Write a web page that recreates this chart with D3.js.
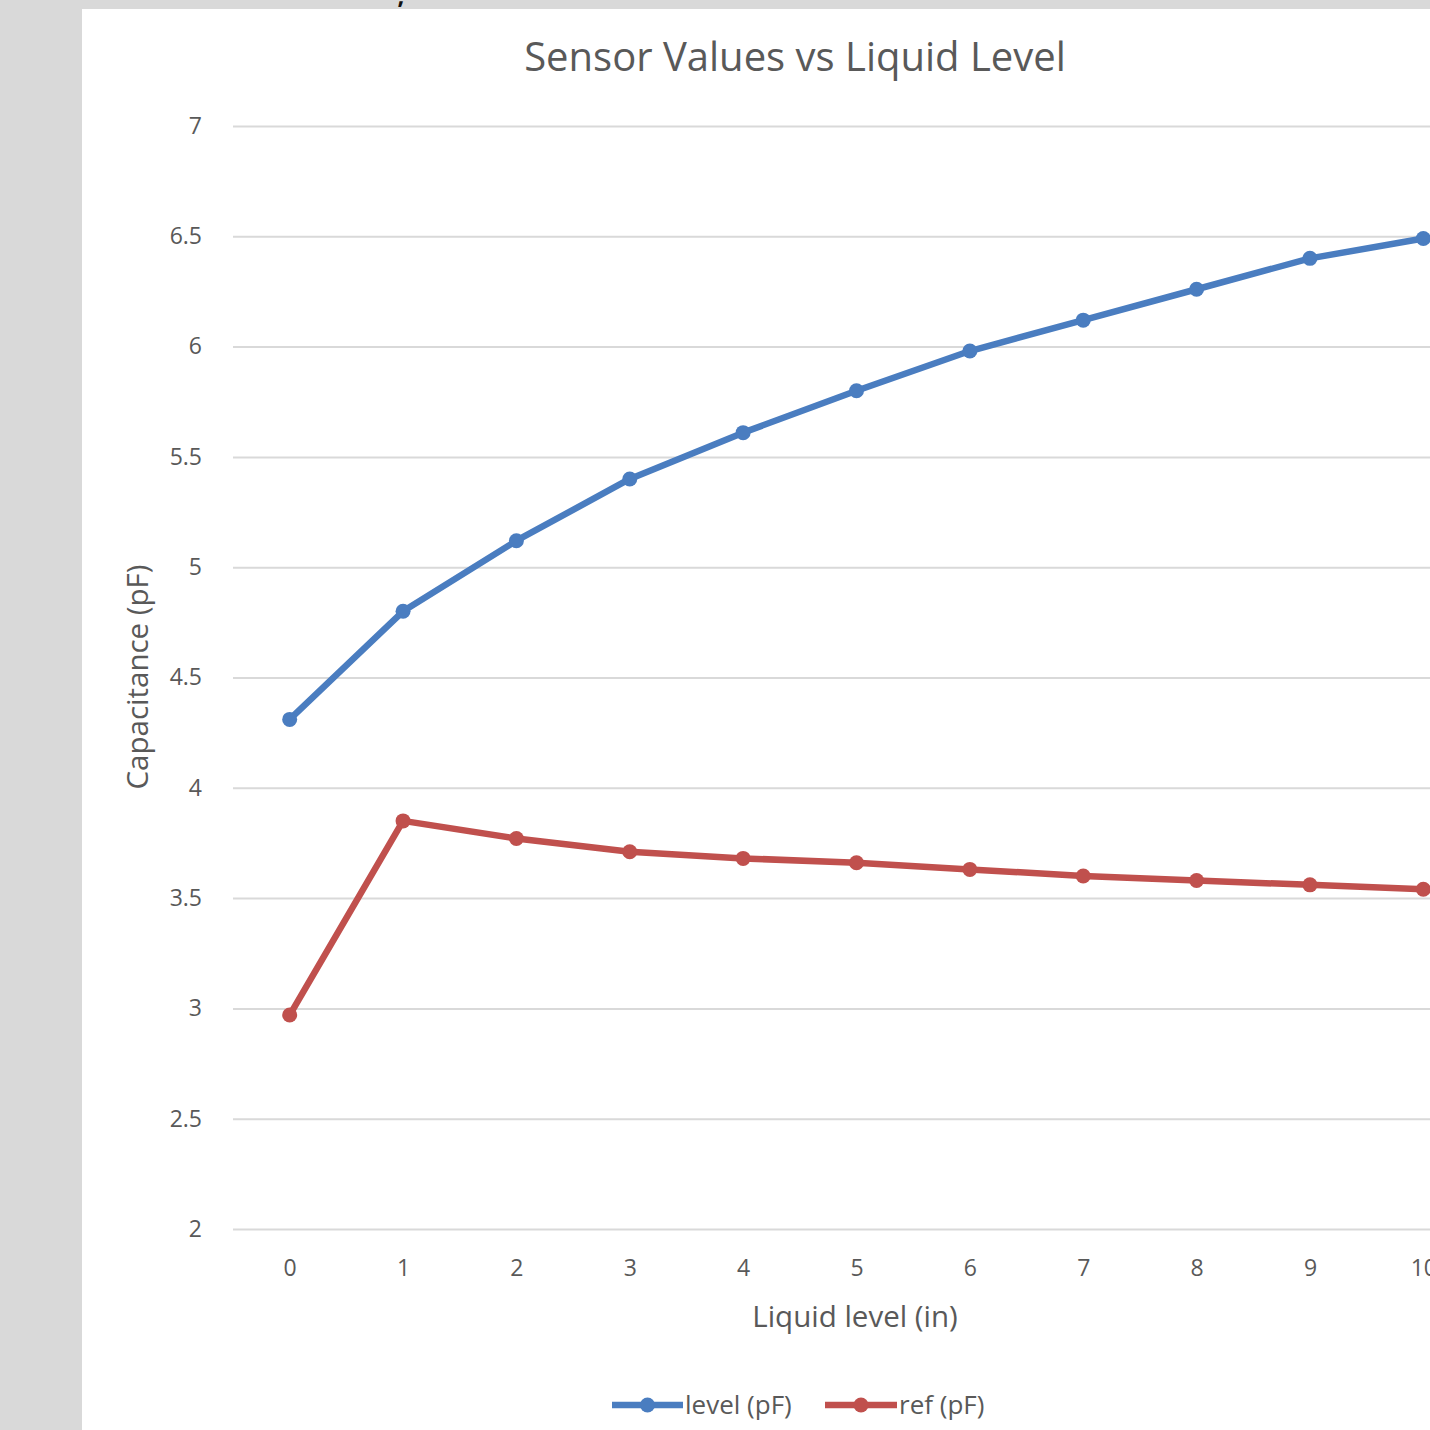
<!DOCTYPE html>
<html>
<head>
<meta charset="utf-8">
<script src="https://cdn.jsdelivr.net/npm/d3@7"></script>
<style>
  html, body { margin: 0; padding: 0; background: #d9d9d9; }
  svg { display: block; font-family: "Open Sans", "Noto Sans", sans-serif; }
</style>
</head>
<body>
<div id="chart"></div>
<script>
// Chart data
const levels = [0, 1, 2, 3, 4, 5, 6, 7, 8, 9, 10];
const levelPF = [4.31, 4.80, 5.12, 5.40, 5.61, 5.80, 5.98, 6.12, 6.26, 6.40, 6.49];
const refPF = [2.97, 3.85, 3.77, 3.71, 3.68, 3.66, 3.63, 3.60, 3.58, 3.56, 3.54];
const yTicks = [2, 2.5, 3, 3.5, 4, 4.5, 5, 5.5, 6, 6.5, 7];
const seriesNames = ["level (pF)", "ref (pF)"];
const seriesColors = ["#4a7dc0", "#c0504d"];

const W = 1430, H = 1430;
// the plot runs past the right edge of the picture (cropped screenshot)
const plot = { left: 233, top: 126, width: 1247, height: 1103 };

const svg = d3.select("#chart").append("svg")
  .attr("width", W)
  .attr("height", H);

// white chart panel over gray page
svg.append("rect")
  .attr("x", 82).attr("y", 9)
  .attr("width", W - 82).attr("height", H - 9)
  .attr("fill", "#ffffff");

// small stray mark in the gray strip
svg.append("text")
  .attr("x", 401).attr("y", 4)
  .attr("text-anchor", "middle")
  .attr("font-size", 24)
  .attr("font-weight", "bold")
  .attr("fill", "#111")
  .text(",");

const x = d3.scalePoint()
  .domain(levels)
  .range([plot.left, plot.left + plot.width])
  .padding(0.5);

const y = d3.scaleLinear()
  .domain([2, 7])
  .range([plot.top + plot.height, plot.top]);

// gridlines
svg.append("g")
  .attr("transform", `translate(${plot.left},0)`)
  .call(d3.axisRight(y).tickValues(yTicks).tickSize(plot.width).tickFormat(""))
  .call(g => g.select(".domain").remove())
  .call(g => g.selectAll("line").attr("stroke", "#d9d9d9").attr("stroke-width", 2));

// y tick labels
svg.append("g")
  .attr("transform", `translate(${plot.left - 28},0)`)
  .call(d3.axisLeft(y).tickValues(yTicks).tickSize(0).tickFormat(d => d))
  .call(g => g.select(".domain").remove())
  .call(g => g.selectAll("text")
    .attr("fill", "#595959")
    .attr("font-size", 23)
    .attr("font-family", "Open Sans, sans-serif"));

// x tick labels (the last one is cut by the right edge, as in the source)
svg.append("g")
  .attr("transform", `translate(0,${plot.top + plot.height + 28})`)
  .call(d3.axisBottom(x).tickSize(0))
  .call(g => g.select(".domain").remove())
  .call(g => g.selectAll("text")
    .attr("fill", "#595959")
    .attr("font-size", 23)
    .attr("font-family", "Open Sans, sans-serif"));

// title
svg.append("text")
  .attr("x", 795).attr("y", 71)
  .attr("text-anchor", "middle")
  .attr("font-size", 40)
  .attr("fill", "#595959")
  .text("Sensor Values vs Liquid Level");

// axis titles
svg.append("text")
  .attr("x", 855).attr("y", 1327)
  .attr("text-anchor", "middle")
  .attr("font-size", 29.5)
  .attr("fill", "#595959")
  .text("Liquid level (in)");

svg.append("text")
  .attr("transform", "translate(148,677) rotate(-90)")
  .attr("text-anchor", "middle")
  .attr("font-size", 29.5)
  .attr("fill", "#595959")
  .text("Capacitance (pF)");

// series lines and markers
const series = [levelPF, refPF];
const line = d3.line()
  .x((d, i) => x(levels[i]))
  .y(d => y(d));

series.forEach((vals, s) => {
  svg.append("path")
    .datum(vals)
    .attr("d", line)
    .attr("fill", "none")
    .attr("stroke", seriesColors[s])
    .attr("stroke-width", 6.5)
    .attr("stroke-linejoin", "round")
    .attr("stroke-linecap", "round");

  svg.append("g").selectAll("circle")
    .data(vals)
    .join("circle")
    .attr("cx", (d, i) => x(levels[i]))
    .attr("cy", d => y(d))
    .attr("r", 7.5)
    .attr("fill", seriesColors[s]);
});

// legend
const legendItems = [
  { x0: 612, lineW: 71, textX: 685 },
  { x0: 825, lineW: 72, textX: 899 }
];
const ly = 1405;
legendItems.forEach((it, s) => {
  svg.append("line")
    .attr("x1", it.x0).attr("x2", it.x0 + it.lineW)
    .attr("y1", ly).attr("y2", ly)
    .attr("stroke", seriesColors[s])
    .attr("stroke-width", 6.5);
  svg.append("circle")
    .attr("cx", it.x0 + it.lineW / 2).attr("cy", ly)
    .attr("r", 7.5)
    .attr("fill", seriesColors[s]);
  svg.append("text")
    .attr("x", it.textX).attr("y", ly + 9)
    .attr("font-size", 26)
    .attr("fill", "#595959")
    .text(seriesNames[s]);
});
</script>
</body>
</html>
